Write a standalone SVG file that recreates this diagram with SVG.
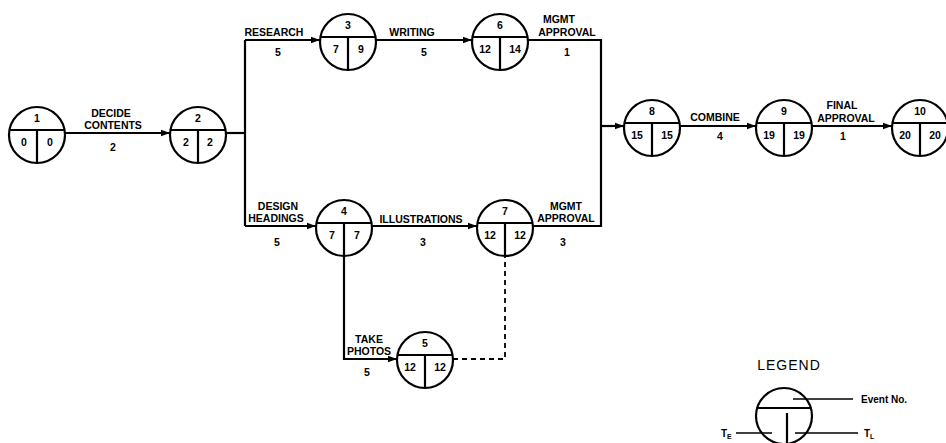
<svg xmlns="http://www.w3.org/2000/svg" width="946" height="443" viewBox="0 0 946 443">
<style>
.bg{fill:#fff}
.c{fill:#fff;stroke:#000;stroke-width:2.2}
.d{stroke:#000;stroke-width:2.2;fill:none}
.w{fill:none;stroke:#000;stroke-width:2.2}
.dash{fill:none;stroke:#000;stroke-width:1.8;stroke-dasharray:5,4}
text{font-family:"Liberation Sans",Arial,sans-serif;font-weight:bold;font-size:10.5px;fill:#000;text-anchor:middle}
.lg{font-weight:normal;font-size:14px;letter-spacing:1px}
.sm{font-size:10px;text-anchor:start}
.sub{font-size:7px}
</style>
<defs>
<marker id="ah" markerUnits="userSpaceOnUse" markerWidth="10" markerHeight="8" refX="9" refY="4" orient="auto">
<path d="M0,0.8 L9,4 L0,7.2 Z" fill="#000"/>
</marker>
</defs>
<rect class="bg" x="0" y="0" width="946" height="443"/>
<g id="connectors">
<path class="w" d="M65,133 H170" marker-end="url(#ah)"/>
<path class="w" d="M226,133 H245"/>
<path class="w" d="M245,40 V226"/>
<path class="w" d="M245,40 H320" marker-end="url(#ah)"/>
<path class="w" d="M376,40 H472" marker-end="url(#ah)"/>
<path class="w" d="M528,40 H601 V226 H533"/>
<path class="w" d="M245,226 H316" marker-end="url(#ah)"/>
<path class="w" d="M372,226 H477" marker-end="url(#ah)"/>
<path class="w" d="M344,256 V359 H397" marker-end="url(#ah)"/>
<path class="dash" d="M453,359 H505 V256"/>
<path class="w" d="M601,126 H624" marker-end="url(#ah)"/>
<path class="w" d="M680,126 H756" marker-end="url(#ah)"/>
<path class="w" d="M812,126 H892" marker-end="url(#ah)"/>
<text x="111" y="117">DECIDE</text>
<text x="113" y="129">CONTENTS</text>
<text x="113" y="151">2</text>
<text x="274" y="36">RESEARCH</text>
<text x="278" y="56">5</text>
<text x="412" y="36">WRITING</text>
<text x="424" y="56">5</text>
<text x="559" y="23">MGMT</text>
<text x="567" y="36">APPROVAL</text>
<text x="567" y="56">1</text>
<text x="278" y="210">DESIGN</text>
<text x="276" y="222">HEADINGS</text>
<text x="277" y="246">5</text>
<text x="421" y="223">ILLUSTRATIONS</text>
<text x="423" y="246">3</text>
<text x="566" y="210">MGMT</text>
<text x="566" y="222">APPROVAL</text>
<text x="563" y="246">3</text>
<text x="369" y="343">TAKE</text>
<text x="369" y="355">PHOTOS</text>
<text x="367" y="376">5</text>
<text x="715" y="121">COMBINE</text>
<text x="720" y="140">4</text>
<text x="842" y="109">FINAL</text>
<text x="846" y="122">APPROVAL</text>
<text x="843" y="140">1</text>
</g>
<g id="n1"><circle class="c" cx="37" cy="135" r="28"/><path class="d" d="M9.5,130 H64.5 M37,130 V163"/><text x="37" y="122">1</text><text x="24" y="146">0</text><text x="50" y="146">0</text></g>
<g id="n2"><circle class="c" cx="198" cy="135" r="28"/><path class="d" d="M170.5,130 H225.5 M198,130 V163"/><text x="198" y="122">2</text><text x="186" y="146">2</text><text x="210" y="146">2</text></g>
<g id="n3"><circle class="c" cx="348" cy="42" r="28"/><path class="d" d="M320.5,37 H375.5 M348,37 V70"/><text x="348" y="29">3</text><text x="336" y="53">7</text><text x="361" y="53">9</text></g>
<g id="n6"><circle class="c" cx="500" cy="42" r="28"/><path class="d" d="M472.5,37 H527.5 M500,37 V70"/><text x="500" y="29">6</text><text x="485" y="53">12</text><text x="515" y="53">14</text></g>
<g id="n4"><circle class="c" cx="344" cy="228" r="28"/><path class="d" d="M316.5,223 H371.5 M344,223 V256"/><text x="344" y="215">4</text><text x="332" y="239">7</text><text x="357" y="239">7</text></g>
<g id="n7"><circle class="c" cx="505" cy="228" r="28"/><path class="d" d="M477.5,223 H532.5 M505,223 V256"/><text x="505" y="215">7</text><text x="490" y="239">12</text><text x="520" y="239">12</text></g>
<g id="n5"><circle class="c" cx="425" cy="360" r="28"/><path class="d" d="M397.5,355 H452.5 M425,355 V388"/><text x="425" y="347">5</text><text x="410" y="371">12</text><text x="440" y="371">12</text></g>
<g id="n8"><circle class="c" cx="652" cy="128" r="28"/><path class="d" d="M624.5,123 H679.5 M652,123 V156"/><text x="652" y="115">8</text><text x="637" y="139">15</text><text x="667" y="139">15</text></g>
<g id="n9"><circle class="c" cx="784" cy="128" r="28"/><path class="d" d="M756.5,123 H811.5 M784,123 V156"/><text x="784" y="115">9</text><text x="769" y="139">19</text><text x="799" y="139">19</text></g>
<g id="n10"><circle class="c" cx="920" cy="128" r="28"/><path class="d" d="M892.5,123 H947.5 M920,123 V156"/><text x="920" y="115">10</text><text x="905" y="139">20</text><text x="935" y="139">20</text></g>
<g id="legend">
<text class="lg" x="789" y="370">LEGEND</text>
<circle class="c" cx="784" cy="416" r="28"/>
<path class="d" d="M756.5,408 H811.5 M787,413 V444"/>
<path class="w" d="M793,399 H853 M795,433 H858 M736,433 H772" style="stroke-width:1.6"/>
<text class="sm" x="861" y="403">Event No.</text>
<text class="sm" x="864" y="437">T<tspan class="sub" dy="2">L</tspan></text>
<text class="sm" x="721" y="437">T<tspan class="sub" dy="2">E</tspan></text>
</g>
</svg>
